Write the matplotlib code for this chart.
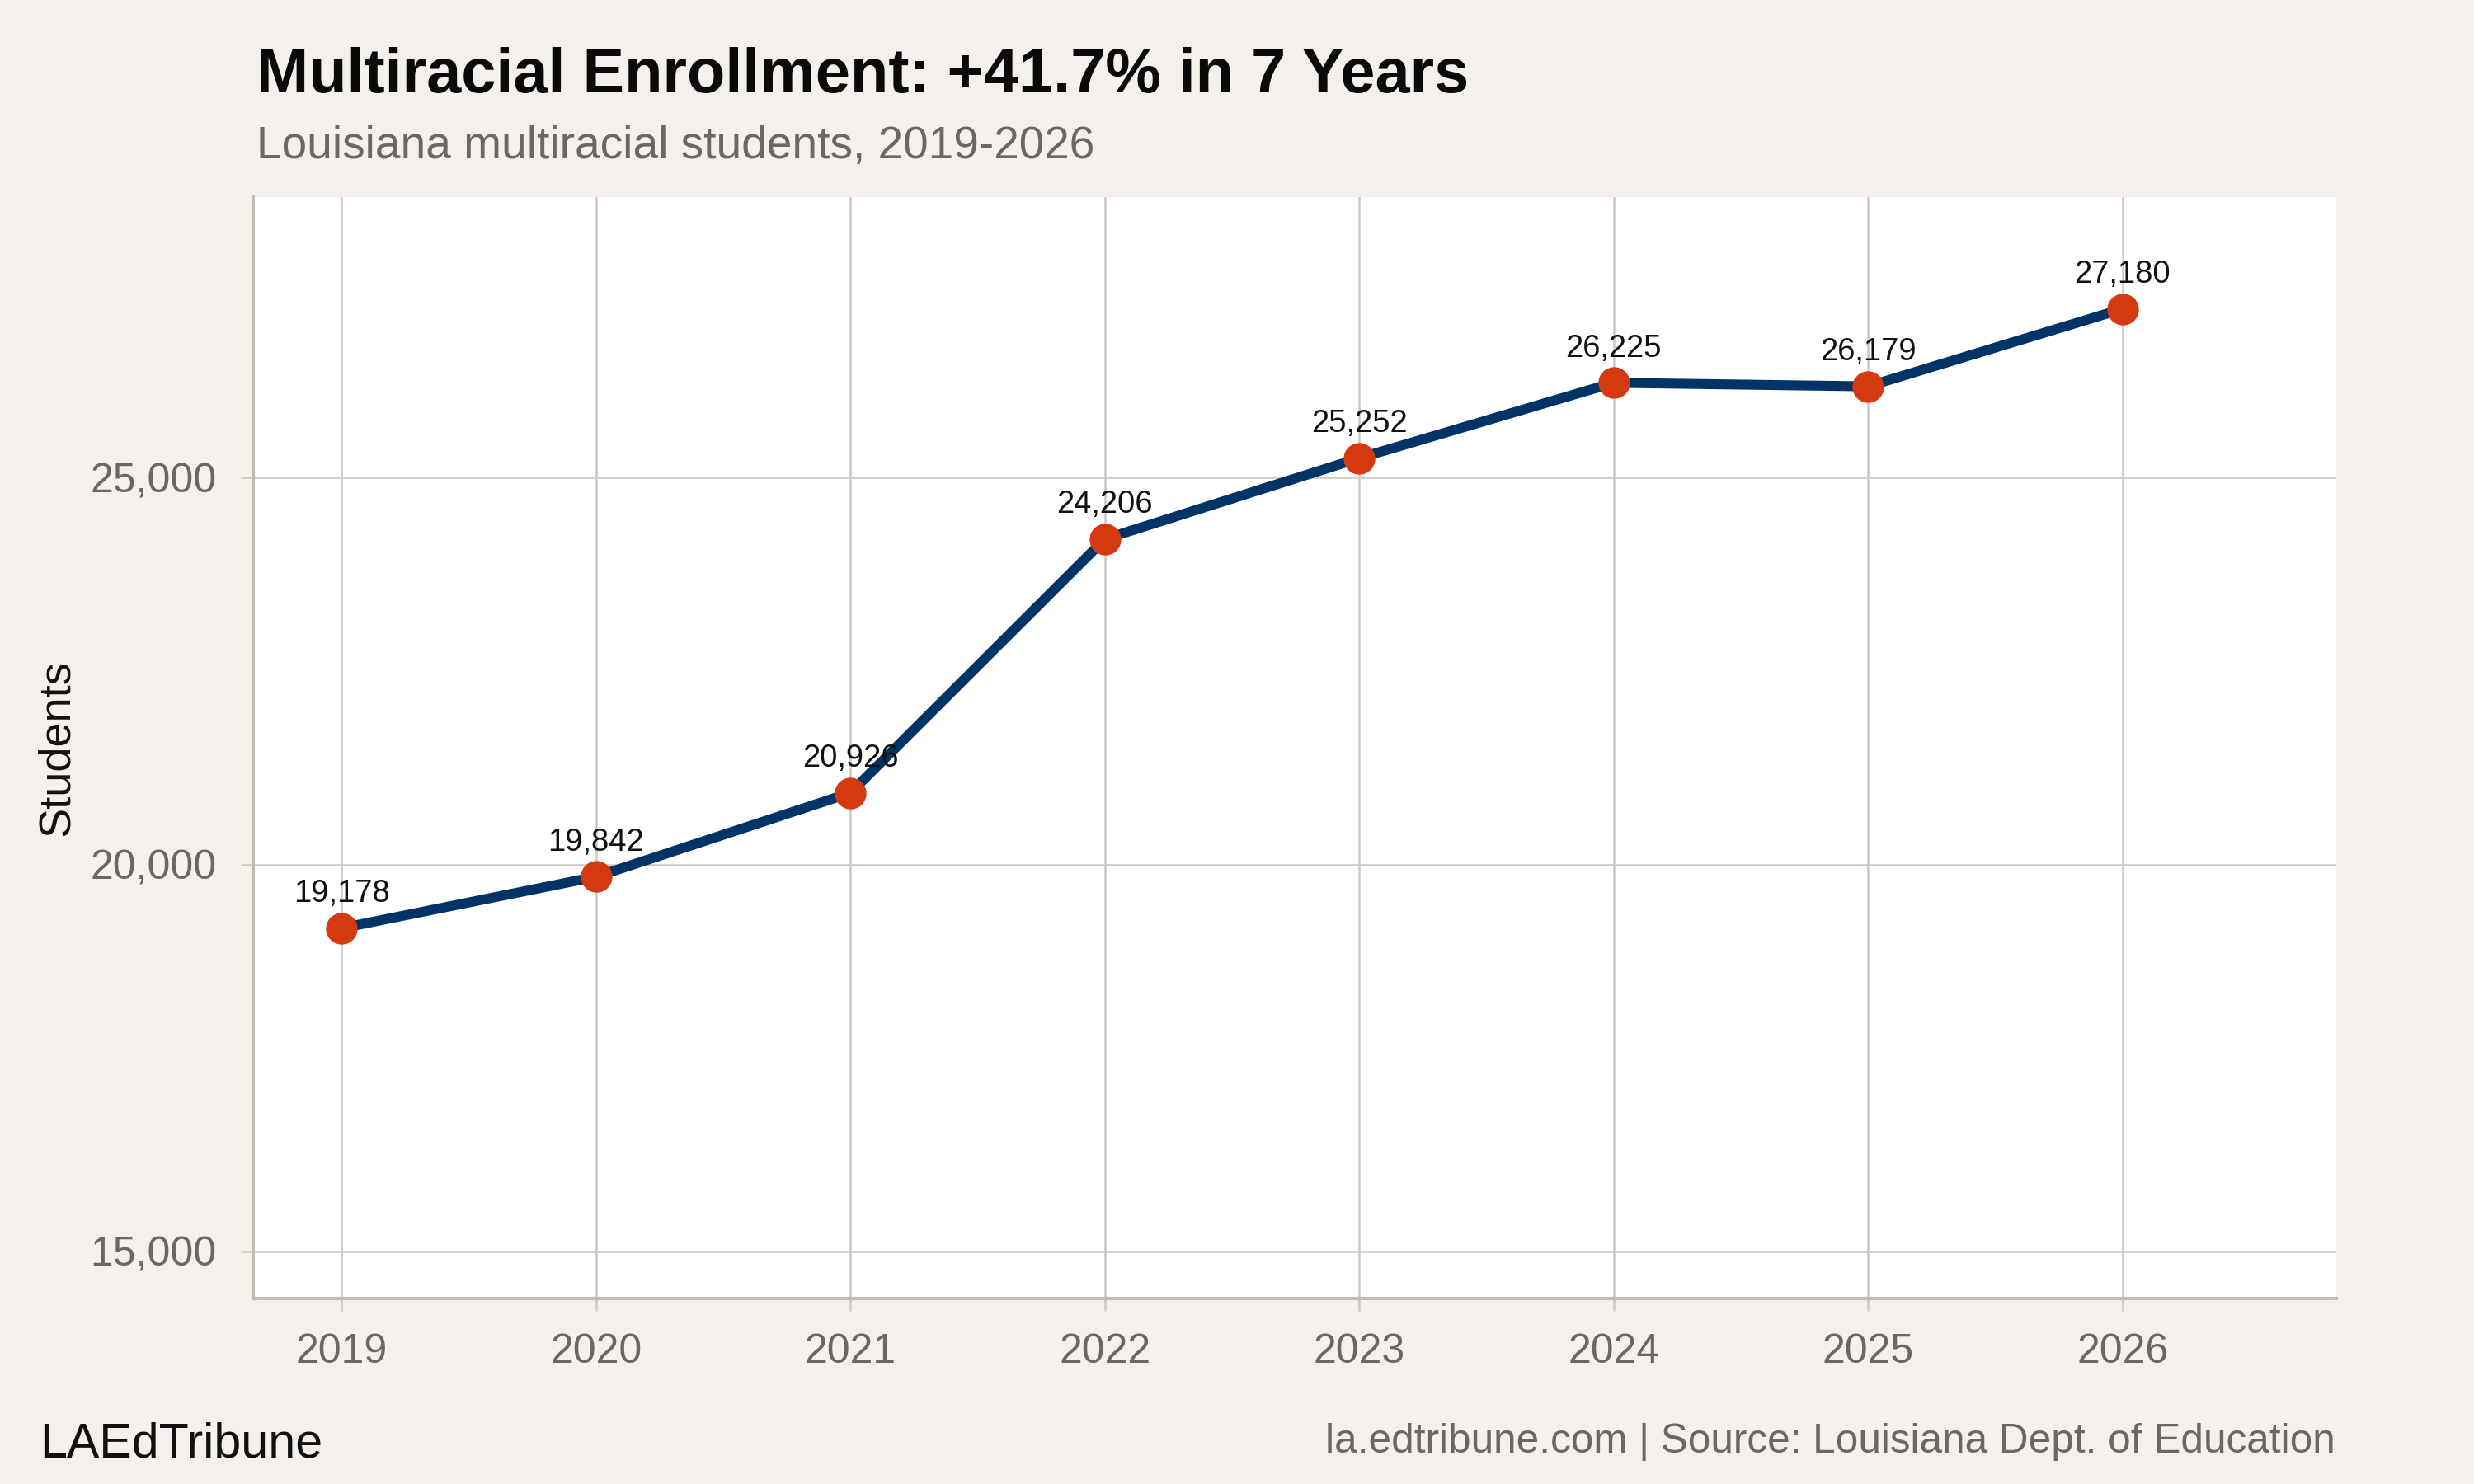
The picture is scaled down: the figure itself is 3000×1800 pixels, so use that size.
import matplotlib
matplotlib.use("Agg")
import matplotlib.pyplot as plt
from matplotlib.ticker import FuncFormatter

years = [2019, 2020, 2021, 2022, 2023, 2024, 2025, 2026]
students = [19178, 19842, 20926, 24206, 25252, 26225, 26179, 27180]
y_ticks = [15000, 20000, 25000]

title = "Multiracial Enrollment: +41.7% in 7 Years"
subtitle = "Louisiana multiracial students, 2019-2026"
y_label = "Students"
brand = "LAEdTribune"
source = "la.edtribune.com | Source: Louisiana Dept. of Education"

BG = "#F4F1EC"
GRID = "#CFC8C0"
AXIS = "#C5BDB4"
GRAY_TXT = "#6B6761"
LINE = "#003366"
MARK = "#D4390F"

plt.rcParams["font.family"] = ["Liberation Sans", "DejaVu Sans"]

fig = plt.figure(figsize=(10, 6), dpi=300, facecolor=BG)
ax = fig.add_axes([0.1023, 0.125, 0.8420, 0.7422])
ax.set_facecolor("white")

ax.plot(years, students, color=LINE, lw=2.9, zorder=3, solid_capstyle="round")
ax.plot(years, students, "o", color=MARK, ms=9.2, mec=MARK, mew=0, zorder=4)

for x, y in zip(years, students):
    ax.annotate(f"{y:,}", (x, y), xytext=(0, 7.6), textcoords="offset points",
                ha="center", va="baseline", fontsize=9.2, color="#111111", zorder=5)

ax.set_xlim(2018.652, 2026.84)
ax.set_ylim(14392, 28625)
ax.set_xticks(years)
ax.set_xticklabels([str(y) for y in years])
ax.set_yticks(y_ticks)
ax.yaxis.set_major_formatter(FuncFormatter(lambda v, p: f"{int(v):,}"))

ax.grid(True, color=GRID, lw=0.6, zorder=0)
ax.set_axisbelow(True)
for s in ["top", "right"]:
    ax.spines[s].set_visible(False)
for s in ["left", "bottom"]:
    ax.spines[s].set_color(AXIS)
    ax.spines[s].set_linewidth(1.0)

ax.tick_params(axis="both", colors=GRID, length=3.6, width=0.6,
               labelcolor=GRAY_TXT, labelsize=12)
ax.tick_params(axis="x", pad=6.5)
ax.tick_params(axis="y", pad=7)

fig.text(0.1037, 0.9378, title, fontsize=18.2, fontweight="bold", color="#0A0A0A",
         ha="left", va="baseline")
fig.text(0.1037, 0.8933, subtitle, fontsize=13.2, color=GRAY_TXT,
         ha="left", va="baseline")
fig.text(0.023, 0.496, y_label, fontsize=13, color="#111111", rotation=90,
         ha="center", va="center")
fig.text(0.016, 0.0183, brand, fontsize=14.2, color="#111111", ha="left", va="baseline")
fig.text(0.944, 0.0211, source, fontsize=11.9, color=GRAY_TXT, ha="right", va="baseline")

fig.savefig("out.png", dpi=300, facecolor=BG)
